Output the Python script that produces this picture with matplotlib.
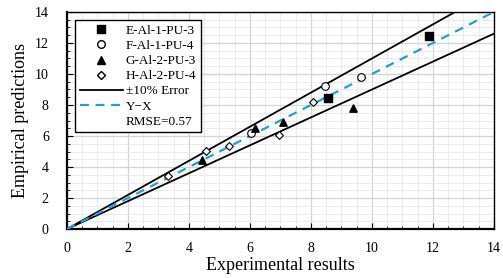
import matplotlib.pyplot as plt
from matplotlib.lines import Line2D
import numpy as np

plt.rcParams['font.family'] = ['Liberation Serif', 'DejaVu Serif']

# data
e_x = [8.56, 11.87]
e_y = [8.45, 12.45]
f_x = [6.03, 8.46, 9.64]
f_y = [6.2, 9.2, 9.8]
g_x = [4.43, 6.16, 7.1, 9.38]
g_y = [4.45, 6.5, 6.9, 7.8]
h_x = [3.31, 4.56, 5.31, 6.95, 8.07]
h_y = [3.42, 5.03, 5.35, 6.06, 8.19]
rmse = 0.57

fig = plt.figure(figsize=(5.03, 2.78), dpi=100)
ax = fig.add_axes([0.133, 0.176, 0.849, 0.781])

line_x = np.array([0, 14])
ax.plot(line_x, 1.1 * line_x, color='black', lw=1.3, zorder=3)
ax.plot(line_x, 0.9 * line_x, color='black', lw=1.3, zorder=3)
ax.plot(line_x, line_x, color='#1fa0e0', lw=1.6, ls=(0, (4, 3)), zorder=3)

ax.scatter(e_x, e_y, marker='s', s=26, color='black', zorder=4)
ax.scatter(f_x, f_y, marker='o', s=30, facecolor='white', edgecolor='black', lw=0.8, zorder=4)
ax.scatter(g_x, g_y, marker='^', s=28, color='black', zorder=4)
ax.scatter(h_x, h_y, marker='D', s=16, facecolor='white', edgecolor='black', lw=0.8, zorder=4)

ax.set_xlim(0, 14)
ax.set_ylim(0, 14)
ax.set_xticks(range(0, 15, 2))
ax.set_yticks(range(0, 15, 2))
ax.set_xticks(np.arange(0, 14.01, 0.5), minor=True)
ax.set_yticks(np.arange(0, 14.01, 0.5), minor=True)
ax.grid(which='major', color='#d4d4d4', lw=0.9)
ax.grid(which='minor', color='#e8e8e8', lw=0.6)
ax.set_axisbelow(True)
ax.tick_params(which='both', direction='in', labelsize=10)
ax.tick_params(which='major', length=4)
ax.tick_params(axis='x', which='major', pad=9)
ax.tick_params(axis='y', which='major', pad=13)
ax.tick_params(which='minor', length=2)
for s in ['left', 'bottom']:
    ax.spines[s].set_linewidth(1.6)
for s in ['top', 'right']:
    ax.spines[s].set_linewidth(1.0)

ax.set_xlabel('Experimental results', fontsize=13, labelpad=2)
ax.set_ylabel('Empirical predictions', fontsize=13, labelpad=4)

handles = [
    Line2D([], [], ls='none', marker='s', color='black', ms=5.5),
    Line2D([], [], ls='none', marker='o', mfc='white', mec='black', ms=5.5),
    Line2D([], [], ls='none', marker='^', color='black', ms=5.5),
    Line2D([], [], ls='none', marker='D', mfc='white', mec='black', ms=4),
    Line2D([], [], color='black', lw=1.3),
    Line2D([], [], color='#1fa0e0', lw=1.6, ls=(0, (4, 3))),
    Line2D([], [], ls='none'),
]
labels = ['E-Al-1-PU-3', 'F-Al-1-PU-4', 'G-Al-2-PU-3', 'H-Al-2-PU-4',
          '±10% Error', 'Y−X', 'RMSE=%.2f' % rmse]
leg = ax.legend(handles, labels, loc='upper left', fontsize=9.5, frameon=True,
                fancybox=False, edgecolor='black', framealpha=1,
                handlelength=3.3, handletextpad=0.2, labelspacing=0.22,
                borderpad=0.35, borderaxespad=0, bbox_to_anchor=(0.019, 0.963))
leg.get_frame().set_linewidth(1.0)

fig.savefig('out.png', dpi=100)
